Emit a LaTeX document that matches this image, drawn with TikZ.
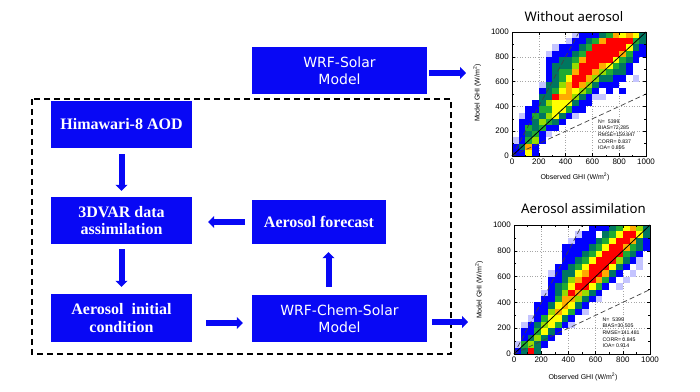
\documentclass[tikz,border=0pt]{standalone}
\usepackage{fontspec}
\setmainfont{Liberation Serif}
\newfontfamily\boxsans{DejaVu Sans}
\newfontfamily\titlesans{Noto Sans}
\newfontfamily\plotsans{Liberation Sans}
\usetikzlibrary{arrows.meta, positioning}
\definecolor{boxblue}{RGB}{8,8,245}
% heat map levels
\definecolor{hm1}{RGB}{196,196,255}
\definecolor{hm2}{RGB}{0,0,255}
\definecolor{hm3}{RGB}{0,118,96}
\definecolor{hm4}{RGB}{30,170,50}
\definecolor{hm5}{RGB}{150,220,0}
\definecolor{hm6}{RGB}{255,255,0}
\definecolor{hm7}{RGB}{255,170,0}
\definecolor{hm8}{RGB}{255,0,0}

\tikzset{
  serifbox/.style={fill=boxblue, text=white, align=center, inner sep=0pt,
    font=\fontsize{16}{17.7}\selectfont\bfseries},
  sansbox/.style={fill=boxblue, text=white, align=center, inner sep=0pt,
    font=\boxsans\fontsize{14}{17.3}\selectfont},
  flow/.style={boxblue, line width=6pt, -{Triangle[width=12pt,length=6pt]}},
  loopframe/.style={line width=1.5pt, dash pattern=on 6pt off 4pt},
  gridline/.style={gray!70, dotted, line width=0.6pt},
  ticklabel/.style={font=\plotsans\fontsize{8}{8}\selectfont, inner sep=0pt},
  axislabel/.style={font=\plotsans\fontsize{7}{8}\selectfont, inner sep=0pt},
  statstext/.style={font=\plotsans\fontsize{5.2}{6.6}\selectfont, align=left,
    inner sep=0pt, anchor=north west},
  plottitle/.style={font=\titlesans\fontsize{13.2}{14}\selectfont, inner sep=0pt}
}

% frame, grid, ticks and 1:1 lines of one scatter panel (scope units = W/m2)
\newcommand{\ghiaxes}[1]{%
  \draw[black, line width=0.8pt] (0,0) -- (1000,1000);
  \draw[black!75, line width=0.7pt, dash pattern=on 5pt off 3pt] (0,0) -- (500,1000);
  \draw[black!75, line width=0.7pt, dash pattern=on 5pt off 3pt] (0,0) -- (1000,500);
  \draw[line width=0.9pt] (0,0) rectangle (1000,1000);
  \foreach \t in {100,300,...,900} {
    \draw[line width=0.5pt] (\t,0) -- ++(0,12) (\t,1000) -- ++(0,-12)
      (0,\t) -- ++(12,0) (1000,\t) -- ++(-12,0);
  }
  \foreach \t in {0,200,...,1000} {
    \draw[line width=0.6pt] (\t,0) -- ++(0,24) (\t,1000) -- ++(0,-24)
      (0,\t) -- ++(22,0) (1000,\t) -- ++(-22,0);
    \node[ticklabel, anchor=north, yshift=-2.5pt] (xt#1\t) at (\t,0) {\t};
    \node[ticklabel, anchor=east, xshift=-3pt] (yt#1\t) at (0,\t) {\t};
  }
}

\begin{document}
\begin{tikzpicture}[x=1pt, y=-1pt, >=Stealth]
  \useasboundingbox (0,0) rectangle (700,391);

  % Assimilation loop
  \draw[loopframe] (32,99) rectangle (451,354);

  % Boxes
  \node[sansbox, minimum width=175pt, minimum height=47pt] (solar) at (339.5,70.5) {WRF-Solar\\Model};
  \node[serifbox, minimum width=141pt, minimum height=47pt] (himawari) at (121.5,124.5) {Himawari-8 AOD};
  \node[serifbox, minimum width=141pt, minimum height=47pt] (assim) at (121.5,220.5) {3DVAR data\\assimilation};
  \node[serifbox, minimum width=141pt, minimum height=48pt] (initcond) at (121.5,318) {Aerosol~ initial\\condition};
  \node[serifbox, minimum width=134pt, minimum height=44pt] (forecast) at (319,222) {Aerosol forecast};
  \node[sansbox, minimum width=175pt, minimum height=47pt] (chem) at (339.5,318.5) {WRF-Chem-Solar\\Model};

  % Arrows
  \draw[flow, shorten <=6pt, shorten >=6pt] (himawari.south) -- (assim.north);
  \draw[flow, shorten <=5pt, shorten >=7pt] (assim.south) -- (initcond.north);
  \draw[flow, shorten <=7pt, shorten >=16pt] (forecast.west) -- (forecast.west -| assim.east);
  \draw[flow, shorten <=8pt, shorten >=8pt] ([xshift=-11pt]chem.north) -- ([xshift=-11pt]chem.north |- forecast.south);
  \draw[flow, shorten <=14pt, shorten >=9pt] ([yshift=-5pt]initcond.east) -- ([yshift=-5pt]initcond.east -| chem.west);
  \coordinate (plotA) at (466,73);
  \coordinate (plotB) at (468,322);
  \draw[flow, shorten <=2pt] ([yshift=-2.5pt]solar.east) -- (plotA);
  \draw[flow, shorten <=5pt] ([yshift=-3.5pt]chem.east) -- (plotB);

  % Panel: without aerosol
  \node[plottitle] (titleA) at (574,17) {Without aerosol};
  \begin{scope}[shift={(512,156)}, x=0.134pt, y=0.124pt]
    \foreach \t in {200,400,...,800} {
      \draw[gridline] (\t,0) -- (\t,1000) (0,\t) -- (1000,\t);
    }
    \foreach \colvals [count=\i from 0] in {
      {2,2,1,0,0,0,0,0,0,0,0,0,0,0,0,0,0,0,0,0},
      {2,3,2,2,2,2,1,0,0,0,0,0,0,0,0,0,0,0,0,0},
      {6,7,4,3,4,2,2,2,0,0,0,0,0,0,0,0,0,0,0,0},
      {2,2,5,4,3,3,4,2,2,0,0,0,0,0,0,0,0,0,0,0},
      {0,0,2,2,4,5,3,4,3,3,2,1,0,0,0,0,0,0,0,0},
      {0,0,0,1,2,4,5,4,5,3,3,3,2,2,2,2,1,0,0,0},
      {0,0,0,0,2,3,6,6,6,8,4,3,3,3,3,2,2,1,0,0},
      {0,0,0,0,0,2,3,6,6,7,6,5,4,4,3,3,2,2,0,0},
      {0,0,0,0,0,0,2,4,6,7,7,7,6,4,3,3,2,2,1,0},
      {0,0,0,0,0,0,1,2,3,5,6,8,8,7,5,4,3,2,2,1},
      {0,0,0,0,0,0,0,2,2,3,5,7,8,8,8,7,4,3,2,2},
      {0,0,0,0,0,0,0,0,2,2,4,5,7,8,8,8,8,4,3,2},
      {0,0,0,0,0,0,0,0,0,1,2,3,5,7,8,8,8,8,4,2},
      {0,0,0,0,0,0,0,0,0,1,0,2,3,5,7,8,8,8,7,3},
      {0,0,0,0,0,0,0,0,0,0,2,2,3,4,6,8,8,8,8,4},
      {0,0,0,0,0,0,0,0,0,0,0,2,2,3,4,6,8,8,8,7},
      {0,0,0,0,0,0,0,0,0,0,2,0,2,3,3,4,7,8,8,6},
      {0,0,0,0,0,0,0,0,0,0,0,0,0,2,2,3,4,6,8,7},
      {0,0,0,0,0,0,0,0,0,0,0,0,1,0,0,2,2,3,4,6},
      {0,0,0,0,0,0,0,0,0,0,0,0,0,0,0,0,2,2,3,3}} {
      \foreach \v [count=\j from 0] in \colvals {
        \ifnum\v>0 \fill[hm\v] (50*\i,50*\j) rectangle ++(50,50); \fi
      }
    }
    \ghiaxes{A}
  \end{scope}
  \node[axislabel] (xlabA) at (575,177) {Observed GHI (W/m\textsuperscript{2})};
  \node[axislabel, rotate=90] (ylabA) at (477,93) {Model GHI (W/m\textsuperscript{2})};
  \node[statstext] (statsA) at (598,119.5) {N=\ \ 5399\\BIAS=72.285\\RMSE=159.847\\CORR=\ 0.837\\IOA=\ 0.895};

  % Panel: aerosol assimilation
  \node[plottitle] (titleB) at (583.5,209) {Aerosol assimilation};
  \begin{scope}[shift={(514,354)}, x=0.136pt, y=0.129pt]
    \foreach \t in {200,400,...,800} {
      \draw[gridline] (\t,0) -- (\t,1000) (0,\t) -- (1000,\t);
    }
    \foreach \colvals [count=\i from 0] in {
      {2,1,0,0,0,0,0,0,0,0,0,0,0,0,0,0,0,0,0,0},
      {3,4,2,2,1,0,0,0,0,0,0,0,0,0,0,0,0,0,0,0},
      {8,5,3,2,2,1,0,0,0,0,0,0,0,0,0,0,0,0,0,0},
      {3,3,5,4,3,2,2,2,0,0,0,0,0,0,0,0,0,0,0,0},
      {0,2,3,6,5,4,2,2,2,1,0,0,0,0,0,0,0,0,0,0},
      {0,0,2,3,6,6,5,3,2,2,2,2,1,0,0,0,0,0,0,0},
      {0,0,0,2,4,6,7,6,4,3,3,2,2,2,0,0,0,0,0,0},
      {0,0,0,0,2,3,6,7,7,5,4,3,3,2,2,2,2,0,0,0},
      {0,0,0,0,1,2,4,6,7,8,6,5,3,3,2,2,2,1,0,0},
      {0,0,0,0,0,0,2,3,5,7,8,7,6,4,3,2,2,2,1,0},
      {0,0,0,0,0,0,1,2,3,5,8,8,7,6,4,3,2,2,2,0},
      {0,0,0,0,0,0,0,0,2,3,6,8,8,8,6,4,3,2,2,2},
      {0,0,0,0,0,0,0,0,1,2,4,7,8,8,8,6,4,3,0,2},
      {0,0,0,0,0,0,0,0,0,0,2,4,7,8,8,8,6,4,3,2},
      {0,0,0,0,0,0,0,0,0,0,0,2,3,6,8,8,8,6,4,3},
      {0,0,0,0,0,0,0,0,0,0,1,0,2,3,5,8,8,8,6,4},
      {0,0,0,0,0,0,0,0,0,0,0,1,0,2,3,4,7,8,8,6},
      {0,0,0,0,0,0,0,0,0,0,0,0,1,0,2,3,4,7,8,7},
      {0,0,0,0,0,0,0,0,0,0,0,0,0,1,1,2,3,3,6,5},
      {0,0,0,0,0,0,0,0,0,0,0,0,0,0,0,0,2,2,3,3}} {
      \foreach \v [count=\j from 0] in \colvals {
        \ifnum\v>0 \fill[hm\v] (50*\i,50*\j) rectangle ++(50,50); \fi
      }
    }
    \ghiaxes{B}
  \end{scope}
  \node[axislabel] (xlabB) at (583,377) {Observed GHI (W/m\textsuperscript{2})};
  \node[axislabel, rotate=90] (ylabB) at (479,290) {Model GHI (W/m\textsuperscript{2})};
  \node[statstext] (statsB) at (602.5,317.5) {N=\ \ 5399\\BIAS=30.505\\RMSE=141.481\\CORR=\ 0.845\\IOA=\ 0.914};
\end{tikzpicture}
\end{document}
